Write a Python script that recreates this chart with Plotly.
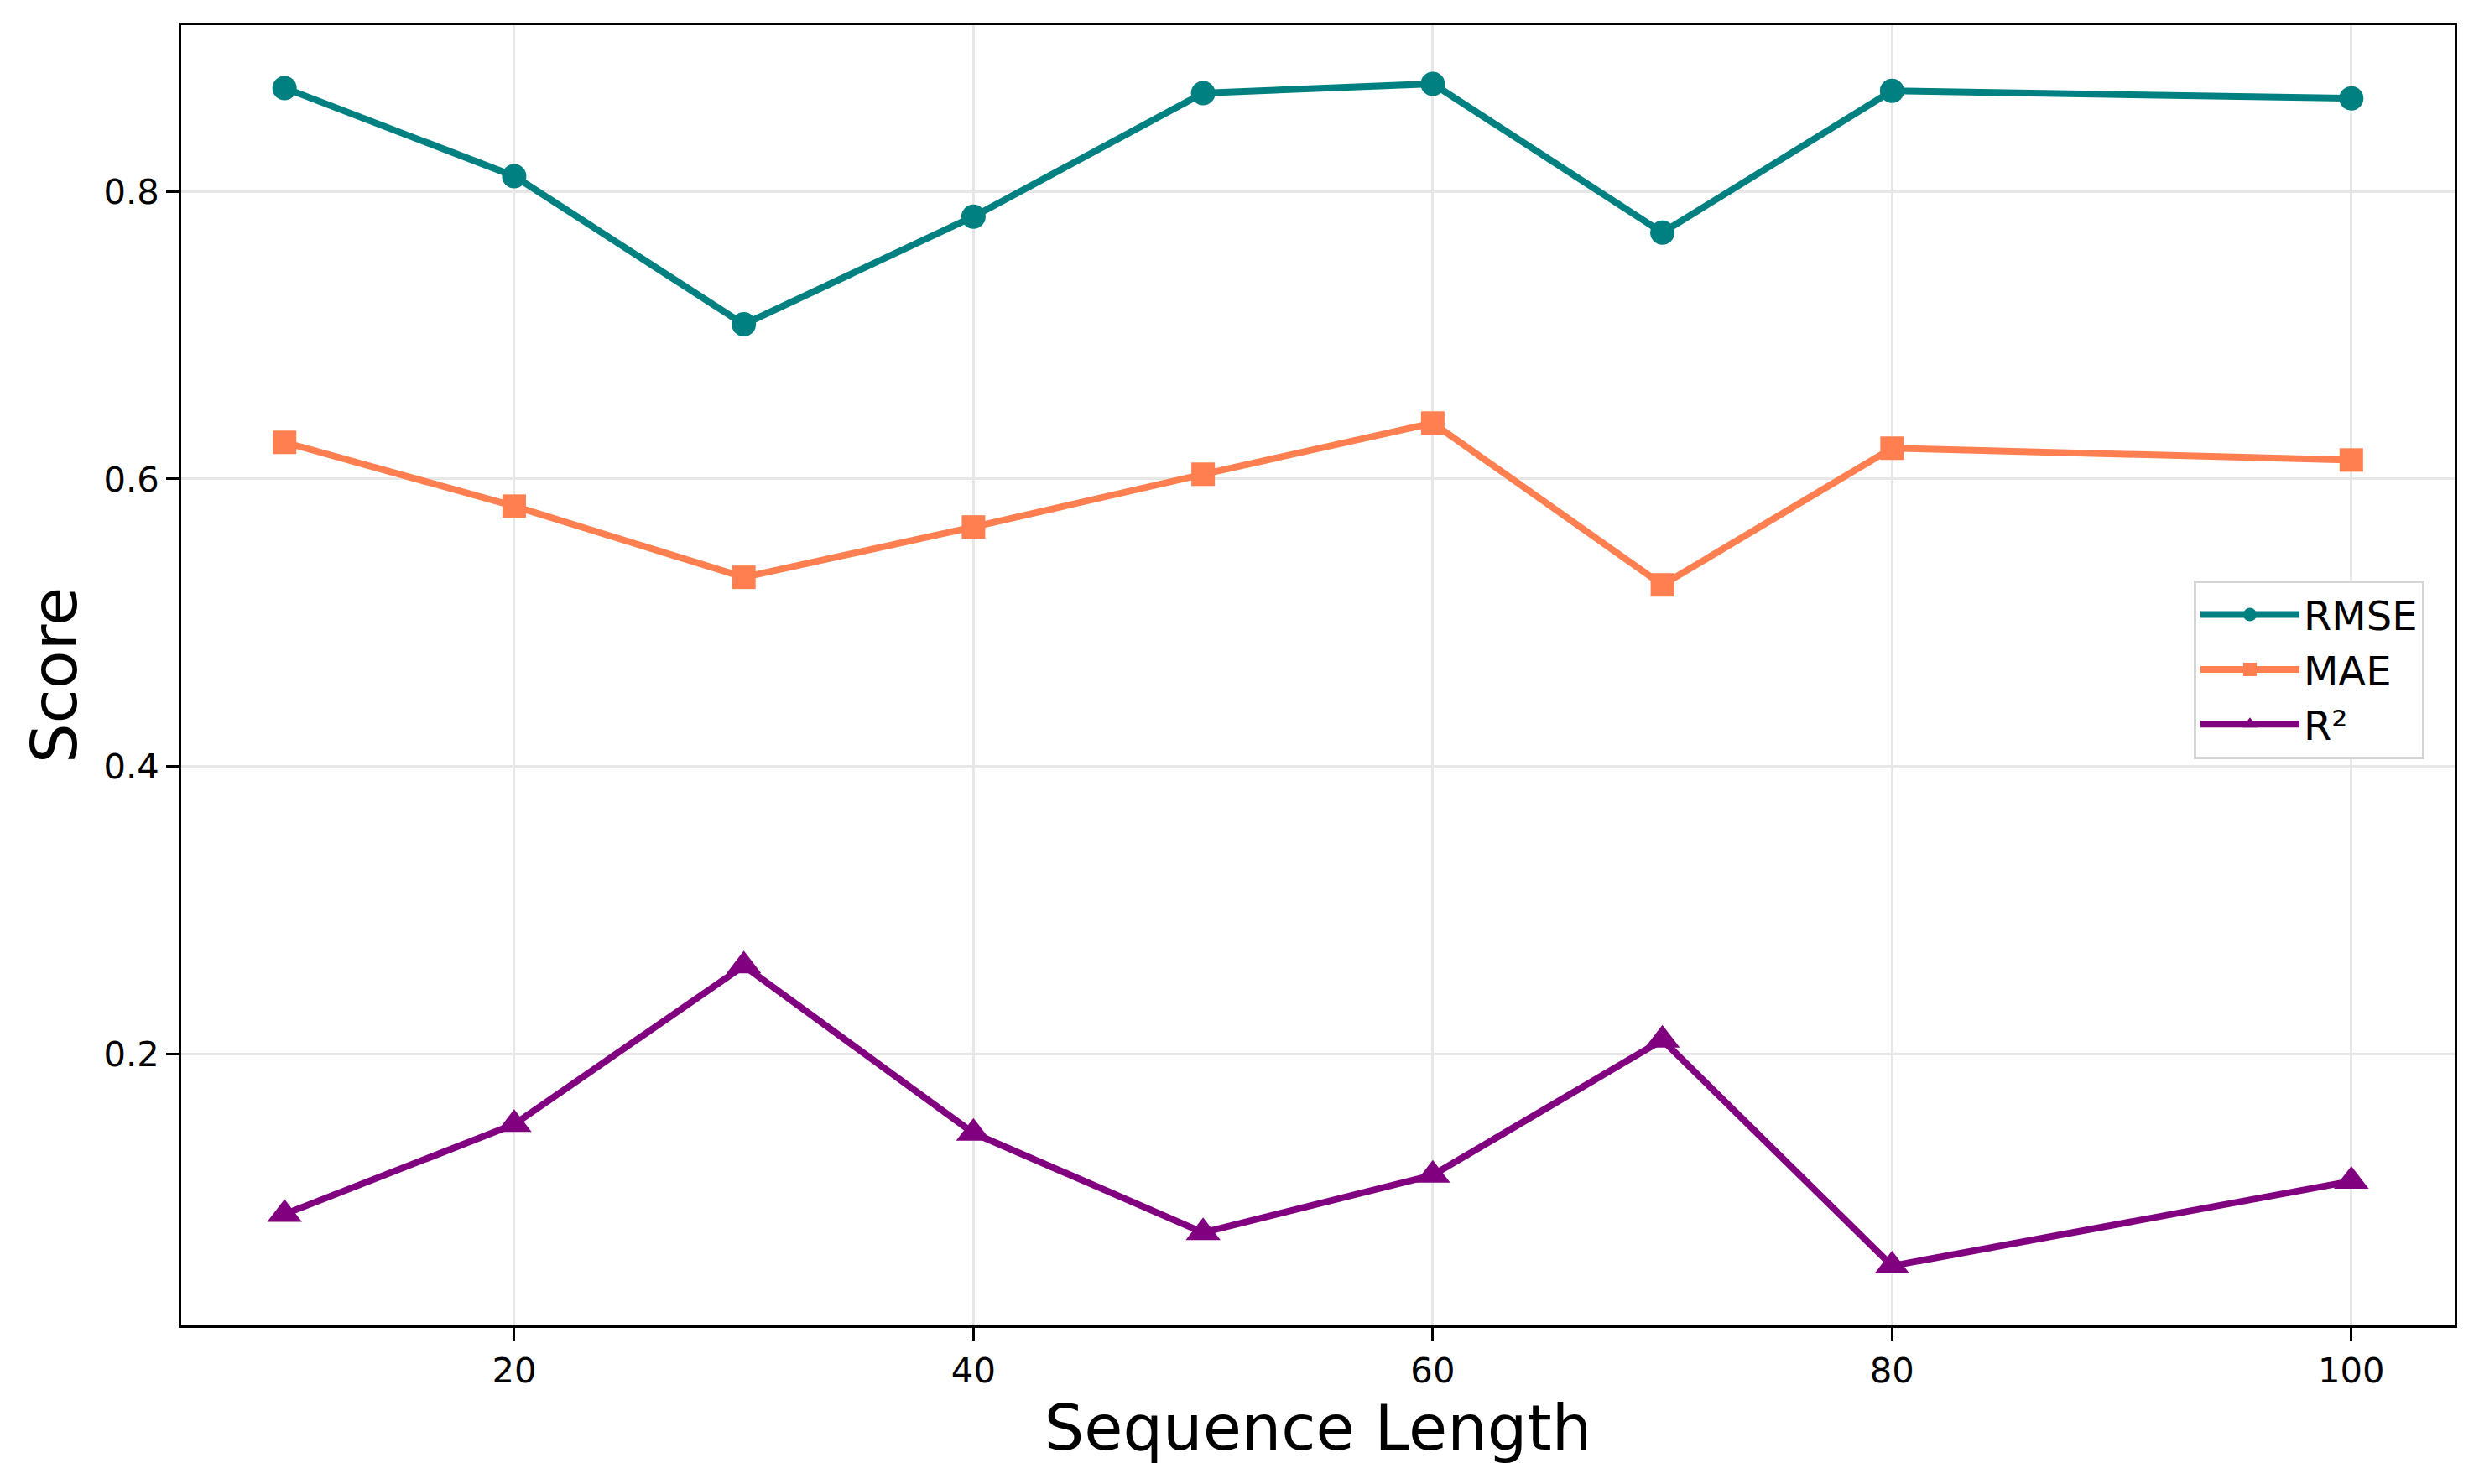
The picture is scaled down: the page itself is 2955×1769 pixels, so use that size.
import plotly.graph_objects as go

seq_len = [10, 20, 30, 40, 50, 60, 70, 80, 100]
rmse = [0.872, 0.8107, 0.7076, 0.7825, 0.8685, 0.8749, 0.7714, 0.8700, 0.8648]
mae = [0.6255, 0.5811, 0.5316, 0.5666, 0.6033, 0.6389, 0.5263, 0.6214, 0.6132]
r2 = [0.0885, 0.1510, 0.2613, 0.1449, 0.0757, 0.1157, 0.2097, 0.0525, 0.1115]

x_ticks = [20, 40, 60, 80, 100]
y_ticks = [0.2, 0.4, 0.6, 0.8]

FONT = "DejaVu Sans"

fig = go.Figure()
fig.add_trace(go.Scatter(x=seq_len, y=rmse, mode="lines+markers", name="RMSE",
                         line=dict(color="#008080", width=8),
                         marker=dict(symbol="circle", size=29, color="#008080")))
fig.add_trace(go.Scatter(x=seq_len, y=mae, mode="lines+markers", name="MAE",
                         line=dict(color="#FF7F50", width=8),
                         marker=dict(symbol="square", size=28, color="#FF7F50")))
fig.add_trace(go.Scatter(x=seq_len, y=r2, mode="lines+markers", name="R²",
                         line=dict(color="#800080", width=8),
                         marker=dict(symbol="triangle-up", size=36, color="#800080")))

axis_common = dict(
    showline=True, linecolor="black", linewidth=3.3, mirror=True,
    ticks="outside", ticklen=14.6, tickwidth=3.3, tickcolor="black",
    showgrid=True, gridcolor="#e7e7e7", gridwidth=3.3,
    zeroline=False,
    tickfont=dict(family=FONT, size=41.7, color="black"),
)

fig.update_xaxes(range=[5.5, 104.5], tickvals=x_ticks, ticktext=[str(v) for v in x_ticks],
                 title=dict(text="Sequence Length", font=dict(family=FONT, size=75, color="black"),
                            standoff=14),
                 **axis_common)
fig.update_yaxes(range=[0.0111, 0.9157], tickvals=y_ticks, ticktext=[f"{v:.1f}" for v in y_ticks],
                 title=dict(text="Score", font=dict(family=FONT, size=75, color="black"),
                            standoff=8),
                 **axis_common)

fig.update_layout(
    width=2955, height=1769,
    margin=dict(l=208, r=37, t=22, b=197, autoexpand=False),
    paper_bgcolor="white", plot_bgcolor="white",
    font=dict(family=FONT, color="black"),
    legend=dict(x=0.9867, y=0.573, xanchor="right", yanchor="top",
                bgcolor="white", bordercolor="#d5d5d5", borderwidth=3,
                font=dict(family=FONT, size=48, color="black"),
                itemwidth=118, tracegroupgap=0),
    showlegend=True,
)

fig.write_html("out.html")
